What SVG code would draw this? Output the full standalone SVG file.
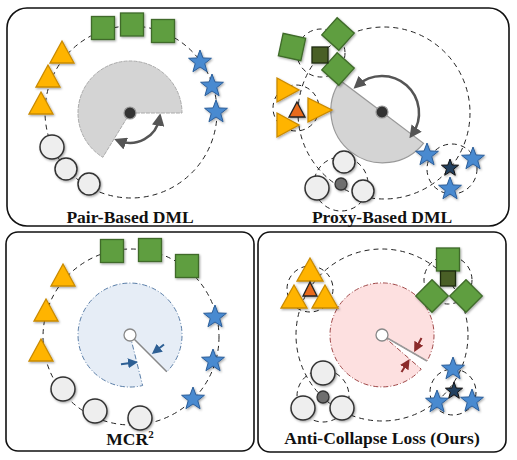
<svg xmlns="http://www.w3.org/2000/svg" xmlns:xlink="http://www.w3.org/1999/xlink" width="517" height="460" viewBox="0 0 517 460">
<style>
.panel{fill:#fff;stroke:#111;stroke-width:1.6}
.ring{fill:none;stroke:#222;stroke-width:1;stroke-dasharray:5 4}
.sq{fill:#5f9e3f;stroke:#3f6b2a;stroke-width:1.3}
.dsq{fill:#4a5e28;stroke:#1e2a10;stroke-width:1.3}
.tri{fill:#ffb400;stroke:#c98a00;stroke-width:1.3}
.otri{fill:#e86a1e;stroke:#222;stroke-width:1.3}
.star{fill:#4a8ad0;stroke:#2a5d99;stroke-width:1}
.dstar{fill:#23405e;stroke:#111;stroke-width:1}
.cir{fill:#eeeeee;stroke:#333;stroke-width:1.5}
.dot{fill:#6e6e6e;stroke:#333;stroke-width:1.3}
.lbl{font-family:"Liberation Serif","Times New Roman",serif;font-weight:bold;font-size:17.5px;fill:#111;text-anchor:middle}
.shp{filter:url(#sh)}
</style>
<defs>
<filter id="sh" x="-30%" y="-30%" width="160%" height="160%"><feDropShadow dx="1" dy="1.2" stdDeviation="1" flood-color="#000" flood-opacity="0.35"/></filter>
<path id="st" d="M0,-12 L2.94,-4.05 L11.41,-3.71 L4.76,1.55 L7.05,9.71 L0,5 L-7.05,9.71 L-4.76,1.55 L-11.41,-3.71 L-2.94,-4.05 Z"/>
<path id="st2" d="M0,-9 L2.2,-3 L8.56,-2.78 L3.57,1.16 L5.29,7.28 L0,3.75 L-5.29,7.28 L-3.57,1.16 L-8.56,-2.78 L-2.2,-3 Z"/>
<path id="tr" d="M0,-13 L12,9 L-12,9 Z"/>
<rect id="sqr" x="-11.5" y="-11.5" width="23" height="23"/>
<marker id="ag" viewBox="0 0 10 10" refX="6" refY="5" markerWidth="5" markerHeight="5" orient="auto-start-reverse"><path d="M0,0 L10,5 L0,10 Z" fill="#555"/></marker>
<marker id="ab" viewBox="0 0 10 10" refX="6" refY="5" markerWidth="5" markerHeight="5" orient="auto"><path d="M0,0 L10,5 L0,10 Z" fill="#2d5f94"/></marker>
<marker id="ar" viewBox="0 0 10 10" refX="6" refY="5" markerWidth="5" markerHeight="5" orient="auto"><path d="M0,0 L10,5 L0,10 Z" fill="#8b2a2a"/></marker>
</defs>

<g id="panels">
<rect class="panel" x="7" y="8" width="502" height="218" rx="20"/>
<rect class="panel" x="6" y="232" width="248" height="219" rx="12"/>
<rect class="panel" x="258" y="232" width="248" height="220" rx="12"/>
</g>

<!-- Panel 1: Pair-Based DML -->
<g id="p1">
<circle class="ring" cx="131" cy="112" r="86"/>
<path d="M130,113 L102.8,157.3 A52,52 0 1,1 182,113 Z" fill="#d4d4d4" stroke="#aaa" stroke-width="1" stroke-dasharray="4 1"/>
<circle cx="130" cy="113" r="6" fill="#333" stroke="#999" stroke-width="1.2"/>
<g id="p1-squares" class="shp">
<use href="#sqr" class="sq" x="103" y="28"/>
<use href="#sqr" class="sq" x="132" y="24.5"/>
<use href="#sqr" class="sq" x="163" y="31"/>
</g>
<g id="p1-tris" class="shp">
<use href="#tr" class="tri" x="62" y="54"/>
<use href="#tr" class="tri" x="48" y="78"/>
<use href="#tr" class="tri" x="41" y="105"/>
</g>
<g id="p1-stars" class="shp">
<use href="#st" class="star" x="200" y="62"/>
<use href="#st" class="star" x="212" y="86"/>
<use href="#st" class="star" x="216" y="112"/>
</g>
<g id="p1-circles" class="shp">
<circle class="cir" cx="52" cy="147" r="12"/>
<circle class="cir" cx="66" cy="169" r="11"/>
<circle class="cir" cx="89" cy="184" r="11"/>
</g>
<text class="lbl" x="130" y="223">Pair-Based DML</text>
</g>

<!-- Panel 2: Proxy-Based DML -->
<g id="p2">
<circle class="ring" cx="384" cy="113" r="86"/>
<circle class="ring" cx="321" cy="53" r="24"/>
<circle class="ring" cx="296" cy="108" r="23"/>
<circle class="ring" cx="341" cy="184" r="27"/>
<circle class="ring" cx="452" cy="169" r="25"/>
<path d="M423.5,143.3 A52,52 0 0,1 340.5,80.7 Z" fill="#d4d4d4" stroke="#999" stroke-width="1.2"/>
<circle cx="382" cy="112" r="6" fill="#333" stroke="#999" stroke-width="1.2"/>
<g id="p2-green" class="shp">
<use href="#sqr" class="sq" transform="translate(292,47) rotate(12)"/>
<use href="#sqr" class="sq" transform="translate(338,34) rotate(42)"/>
<use href="#sqr" class="sq" transform="translate(338,69) rotate(42)"/>
<rect class="dsq" x="312" y="47" width="16" height="16"/>
</g>
<g id="p2-orange" class="shp">
<path class="tri" d="M277,78 L299,90 L277,102 Z"/>
<path class="tri" d="M277,113 L299,125 L277,137 Z"/>
<path class="tri" d="M308,98 L332,110 L308,122 Z"/>
<path class="otri" d="M297,102 L305,117 L289,117 Z"/>
</g>
<g id="p2-circles" class="shp">
<circle class="cir" cx="344" cy="162" r="11"/>
<circle class="cir" cx="317" cy="188" r="12"/>
<circle class="cir" cx="363" cy="191" r="11"/>
<circle class="dot" cx="341" cy="184" r="6"/>
</g>
<g id="p2-stars" class="shp">
<use href="#st" class="star" x="427" y="155"/>
<use href="#st" class="star" x="473" y="159"/>
<use href="#st" class="star" x="450" y="189"/>
<use href="#st2" class="dstar" x="450" y="168"/>
</g>
<text class="lbl" x="382" y="223">Proxy-Based DML</text>
</g>

<!-- Panel 3: MCR2 -->
<g id="p3">
<circle class="ring" cx="131" cy="337" r="88"/>
<path d="M130,335 L142.6,385.5 A52,52 0 1,1 166.8,371.8 Z" fill="#e6edf6" stroke="#5a7ea8" stroke-width="1" stroke-dasharray="5 2 1 2"/>
<line x1="130" y1="335" x2="166.8" y2="371.8" stroke="#888" stroke-width="1.5"/>
<circle cx="130" cy="335" r="6" fill="#fff" stroke="#888" stroke-width="1.3"/>
<g id="p3-squares" class="shp">
<use href="#sqr" class="sq" x="112" y="251"/>
<use href="#sqr" class="sq" x="150" y="250"/>
<use href="#sqr" class="sq" x="187" y="266"/>
</g>
<g id="p3-tris" class="shp">
<use href="#tr" class="tri" x="63" y="277"/>
<use href="#tr" class="tri" x="46" y="312"/>
<use href="#tr" class="tri" x="41" y="352"/>
</g>
<g id="p3-stars" class="shp">
<use href="#st" class="star" x="215" y="317"/>
<use href="#st" class="star" x="213" y="361"/>
<use href="#st" class="star" x="193" y="399"/>
</g>
<g id="p3-circles" class="shp">
<circle class="cir" cx="63" cy="389" r="12"/>
<circle class="cir" cx="95" cy="411" r="12"/>
<circle class="cir" cx="140" cy="418" r="12"/>
</g>
<text class="lbl" x="130" y="445">MCR<tspan font-size="11" dy="-7">2</tspan></text>
</g>

<!-- Panel 4: Anti-Collapse Loss -->
<g id="p4">
<circle class="ring" cx="382" cy="335" r="86"/>
<circle class="ring" cx="310" cy="289" r="23"/>
<circle class="ring" cx="448" cy="280" r="24"/>
<circle class="ring" cx="323" cy="396" r="26"/>
<circle class="ring" cx="453" cy="392" r="23"/>
<path d="M382,335 L421.2,369.1 A52,52 0 1,1 427,361 Z" fill="#fde0e0" stroke="#a04848" stroke-width="1" stroke-dasharray="5 2 1 2"/>
<line x1="382" y1="335" x2="427" y2="361" stroke="#999" stroke-width="1.5"/>
<circle cx="382" cy="335" r="6" fill="#fff" stroke="#888" stroke-width="1.3"/>
<g id="p4-orange" class="shp">
<path class="tri" d="M310,258 L323,281 L297,281 Z"/>
<path class="tri" d="M294,285 L307,308 L281,308 Z"/>
<path class="tri" d="M325,285 L338,308 L312,308 Z"/>
<path class="otri" d="M310,282 L317,296 L303,296 Z"/>
</g>
<g id="p4-green" class="shp">
<use href="#sqr" class="sq" x="448" y="259.5"/>
<use href="#sqr" class="sq" transform="translate(432,296) rotate(45)"/>
<use href="#sqr" class="sq" transform="translate(466,296) rotate(45)"/>
<rect class="dsq" x="440.5" y="271" width="15" height="15"/>
</g>
<g id="p4-circles" class="shp">
<circle class="cir" cx="323" cy="373" r="12"/>
<circle class="cir" cx="303" cy="408" r="12"/>
<circle class="cir" cx="342" cy="408" r="12"/>
<circle class="dot" cx="323" cy="397" r="6"/>
</g>
<g id="p4-stars" class="shp">
<use href="#st" class="star" x="453" y="369"/>
<use href="#st" class="star" x="437" y="402"/>
<use href="#st" class="star" x="472" y="401"/>
<use href="#st2" class="dstar" x="454" y="391"/>
</g>
<text class="lbl" x="382" y="444">Anti-Collapse Loss (Ours)</text>
</g>

<g id="connectors" fill="none">
<path d="M159.5,118.2 A30,30 0 0,1 118.8,140.8" stroke="#555" stroke-width="2.5" marker-start="url(#ag)" marker-end="url(#ag)"/>
<path d="M357.2,85.5 A37,37 0 0,1 412.3,134.2" stroke="#555" stroke-width="2.5" marker-start="url(#ag)" marker-end="url(#ag)"/>
<line x1="121" y1="364.2" x2="134" y2="362.5" stroke="#2d5f94" stroke-width="2" marker-end="url(#ab)"/>
<line x1="164" y1="344.5" x2="155" y2="351.5" stroke="#2d5f94" stroke-width="2" marker-end="url(#ab)"/>
<line x1="421.5" y1="338" x2="416" y2="348.5" stroke="#8b2a2a" stroke-width="2" marker-end="url(#ar)"/>
<line x1="401.5" y1="372" x2="407.5" y2="362.5" stroke="#8b2a2a" stroke-width="2" marker-end="url(#ar)"/>
</g>
</svg>
